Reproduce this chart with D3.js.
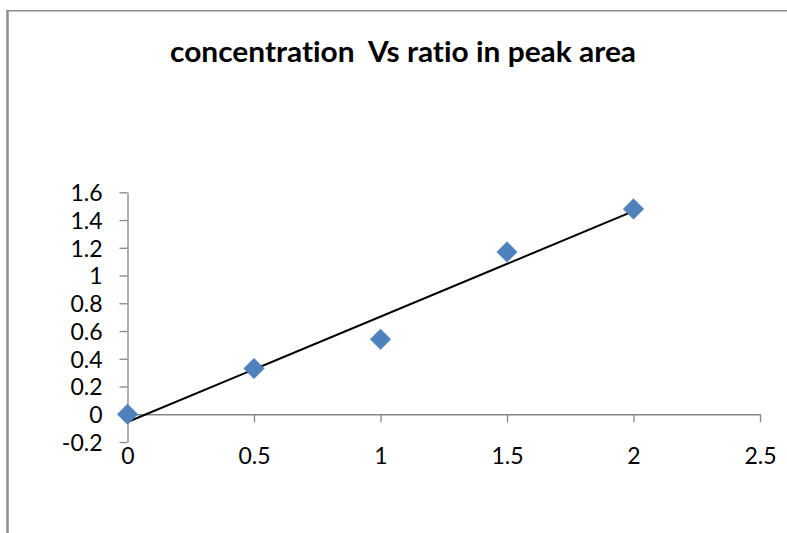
<!DOCTYPE html>
<html>
<head>
<meta charset="utf-8">
<script src="https://cdn.jsdelivr.net/npm/d3@7"></script>
<style>
  html, body { margin: 0; padding: 0; background: #fff; }
  svg { display: block; }
  text { font-variant-ligatures: none; font-feature-settings: "liga" 0; }
</style>
</head>
<body>
<svg id="chart" width="787" height="533"></svg>
<script>
const title = "concentration  Vs ratio in peak area";
const xValues = [0, 0.5, 1, 1.5, 2];
const yValues = [0, 0.33, 0.54, 1.17, 1.48];
const xTicks = [0, 0.5, 1, 1.5, 2, 2.5];
const xTickLabels = ["0", "0.5", "1", "1.5", "2", "2.5"];
const yTicks = [-0.2, 0, 0.2, 0.4, 0.6, 0.8, 1, 1.2, 1.4, 1.6];
const yTickLabels = ["-0.2", "0", "0.2", "0.4", "0.6", "0.8", "1", "1.2", "1.4", "1.6"];

const svg = d3.select("#chart");
const W = 787, H = 533;
const font = "Lato, 'Open Sans', sans-serif";

// frame
svg.append("line").attr("x1", 7.5).attr("x2", 7.5).attr("y1", 10).attr("y2", H)
  .attr("stroke", "#8c8c8c").attr("stroke-width", 2.5);
svg.append("line").attr("x1", 6.5).attr("x2", W).attr("y1", 10.75).attr("y2", 10.75)
  .attr("stroke", "#8c8c8c").attr("stroke-width", 1.5);

const x = d3.scaleLinear().domain([0, 2.5]).range([127.5, 760]);
const y = d3.scaleLinear().domain([-0.2, 1.6]).range([442, 192.3]);

const axisColor = "#868686";

// y axis
const yAxis = d3.axisLeft(y).tickValues(yTicks).tickSizeInner(8).tickSizeOuter(0)
  .tickFormat((d, i) => yTickLabels[i]);
const gy = svg.append("g").attr("transform", `translate(${x(0)},0)`).call(yAxis);
gy.select(".domain").attr("stroke", axisColor).attr("stroke-width", 1.3);
gy.selectAll(".tick line").attr("stroke", axisColor).attr("stroke-width", 1.3);
gy.selectAll(".tick text").attr("x", -25).attr("dy", "0.36em")
  .attr("fill", "#000").style("font-family", font).style("font-size", "23px");

// x axis
const xAxis = d3.axisBottom(x).tickValues(xTicks).tickSizeInner(8).tickSizeOuter(0)
  .tickFormat((d, i) => xTickLabels[i]);
const gx = svg.append("g").attr("transform", `translate(0,${y(0)})`).call(xAxis);
gx.select(".domain").attr("stroke", axisColor).attr("stroke-width", 1.3);
gx.selectAll(".tick line").attr("stroke", axisColor).attr("stroke-width", 1.3);
gx.selectAll(".tick text").attr("y", y(-0.2) - y(0) + 6).attr("dy", "0.71em")
  .attr("fill", "#000").style("font-family", font).style("font-size", "23px");

// linear trendline (least squares)
const n = xValues.length;
const mx = d3.mean(xValues), my = d3.mean(yValues);
let sxy = 0, sxx = 0;
for (let i = 0; i < n; i++) { sxy += (xValues[i] - mx) * (yValues[i] - my); sxx += (xValues[i] - mx) ** 2; }
const slope = sxy / sxx, intercept = my - slope * mx;
const x0 = d3.min(xValues), x1 = d3.max(xValues);
svg.append("line")
  .attr("x1", x(x0)).attr("y1", y(intercept + slope * x0))
  .attr("x2", x(x1)).attr("y2", y(intercept + slope * x1))
  .attr("stroke", "#000").attr("stroke-width", 2);

// markers (diamonds)
const side = 14.5;
svg.append("g").selectAll("rect").data(xValues.map((v, i) => [v, yValues[i]])).join("rect")
  .attr("x", -side / 2).attr("y", -side / 2).attr("width", side).attr("height", side)
  .attr("transform", d => `translate(${x(d[0])},${y(d[1])}) rotate(45)`)
  .attr("fill", "#4f81bd").attr("stroke", "#4a7ebb").attr("stroke-width", 0.5);

// title
svg.append("text").attr("x", 403).attr("y", 62).attr("text-anchor", "middle")
  .attr("xml:space", "preserve").style("white-space", "pre")
  .attr("textLength", 466).attr("lengthAdjust", "spacingAndGlyphs")
  .style("font-family", font).style("font-weight", "bold").style("font-size", "28px")
  .attr("fill", "#000").text(title);
</script>
</body>
</html>
